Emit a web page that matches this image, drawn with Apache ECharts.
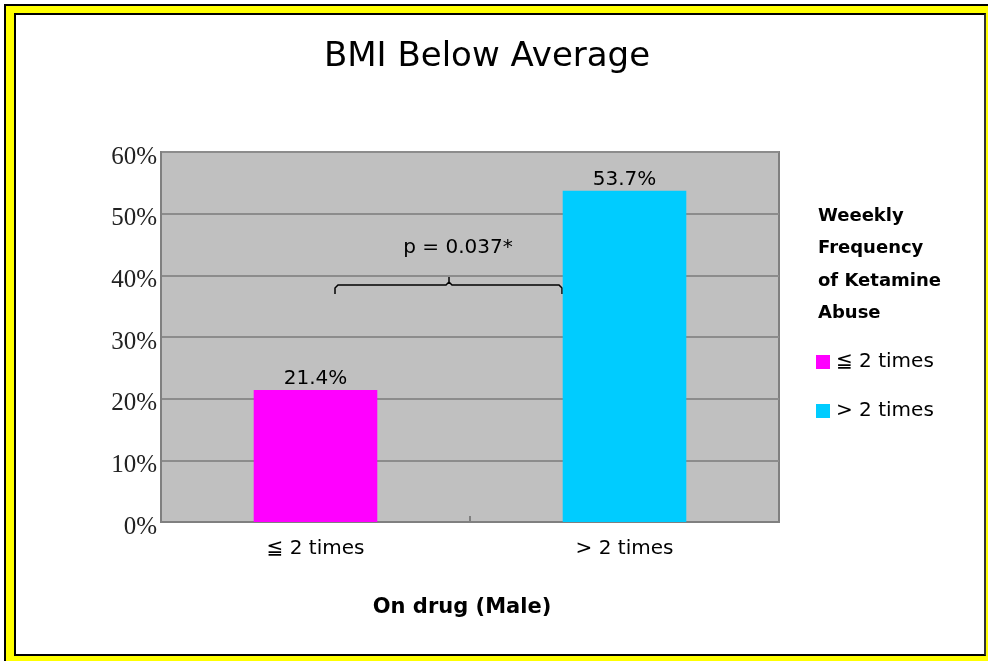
<!DOCTYPE html>
<html><head><meta charset="utf-8">
<script src="https://cdn.jsdelivr.net/npm/echarts@6/dist/echarts.min.js"></script>
<style>
html,body{margin:0;padding:0;background:#fff;width:988px;height:661px;overflow:hidden;}
#frame{position:absolute;left:4px;top:4px;width:990px;height:660px;background:#ffff00;border:2px solid #000;box-sizing:border-box;}
#inner{position:absolute;left:14px;top:13px;width:972px;height:643px;background:#fff;border:2px solid #000;border-right-color:#333;box-sizing:border-box;}
#chart{position:absolute;left:0;top:0;width:988px;height:661px;}
</style></head>
<body>
<div id="frame"></div><div id="inner"></div>
<div id="chart"></div>
<script>
const categories = ['≦ 2 times', '> 2 times'];
const seriesNames = ['≦ 2 times', '> 2 times'];
const values = [21.4, 53.7];
const colors = ['#ff00ff', '#00ccff'];
const yTicks = [0, 10, 20, 30, 40, 50, 60];
const pText = 'p = 0.037*';

const chart = echarts.init(document.getElementById('chart'), null, {renderer:'canvas'});
const sans = '"DejaVu Sans", Arial, sans-serif';
const series = seriesNames.map((n, i) => ({
  name: n, type: 'bar', stack: 'a',
  data: values.map((v, j) => j === i ? v : '-'),
  barWidth: '40%',
  itemStyle: {color: colors[i]},
  label: {show: true, position: 'top', formatter: p => p.value.toFixed(1) + '%', color: '#000', fontFamily: sans, fontSize: 20, distance: 1},
  emphasis: {disabled: true}
}));
chart.setOption({
  animation: false,
  title: {text: 'BMI Below Average', left: 482, top: 35, textAlign: 'center',
    textStyle: {fontFamily: sans, fontSize: 34, fontWeight: 'normal', color: '#000'}},
  grid: {left: 161, top: 152, width: 618, height: 370, show: true, backgroundColor: '#c0c0c0', borderColor: '#808080', borderWidth: 2},
  xAxis: {type: 'category', data: categories,
    axisLine: {lineStyle: {color: '#808080', width: 2}},
    axisTick: {show: true, inside: true, length: 6, lineStyle: {color: '#808080', width: 2}},
    axisLabel: {fontFamily: sans, fontSize: 20, color: '#000', margin: 17}},
  yAxis: {type: 'value', min: 0, max: 60, interval: 10,
    axisLine: {show: true, lineStyle: {color: '#808080', width: 2}},
    axisTick: {show: false},
    axisLabel: {formatter: v => '{a|' + v + '%}', margin: 4,
      rich: {a: {fontFamily: '"Liberation Serif", "Times New Roman", serif', fontSize: 25, color: '#222', padding: [10,0,0,0]}}},
    splitLine: {lineStyle: {color: '#8c8c8c', width: 2}}},
  legend: {orient: 'vertical', left: 816, top: 352, padding: 0, itemWidth: 14, itemHeight: 14, itemGap: 29, icon: 'rect',
    data: seriesNames,
    textStyle: {fontFamily: sans, fontSize: 20, color: '#000', padding: [0,0,0,1]}},
  series: series,
  graphic: [
    {type: 'text', left: 818, top: 200, style: {text: 'Weeekly\nFrequency\nof Ketamine\nAbuse', font: 'bold 18px ' + sans, fill: '#000', lineHeight: 32.5}},
    {type: 'text', x: 462, y: 608, style: {text: 'On drug (Male)', font: 'bold 21px ' + sans, fill: '#000', textAlign: 'center', textVerticalAlign: 'middle'}},
    {type: 'text', x: 458, y: 248, style: {text: pText, font: '20px ' + sans, fill: '#000', textAlign: 'center', textVerticalAlign: 'middle'}},
    {type: 'polyline', shape: {points: [[335,294],[335,288],[338,285],[446,285],[449,282],[449,276],[449,282],[452,285],[559,285],[562,288],[562,294]]},
     style: {stroke: '#000', lineWidth: 1.5, fill: null}}
  ]
});
</script>
</body></html>
